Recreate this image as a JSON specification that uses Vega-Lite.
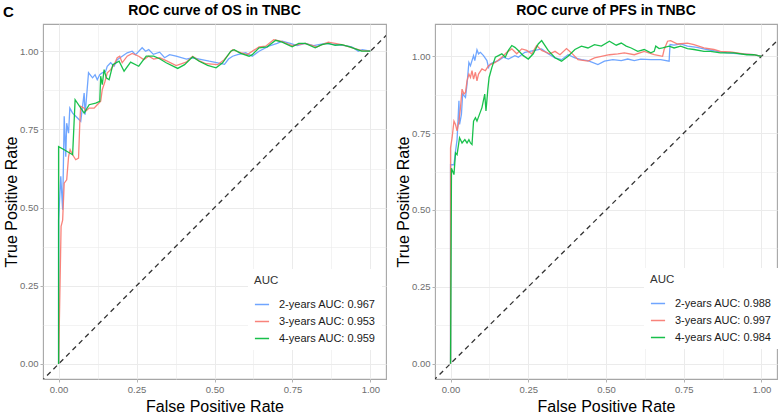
{
  "$schema": "https://vega.github.io/schema/vega-lite/v6.json",
  "background": "white",
  "padding": {"left": 2, "top": 3, "right": 0, "bottom": 0},
  "title": {"text": "C", "anchor": "start", "frame": "bounds", "fontSize": 15, "fontWeight": "bold", "color": "#000000", "offset": -17},
  "config": {
    "font": "Liberation Sans",
    "view": {"stroke": "#a6a6a6", "strokeWidth": 1.1},
    "title": {"fontSize": 14, "fontWeight": "bold", "color": "#000000", "offset": 6, "anchor": "middle"},
    "axis": {
      "domain": false, "grid": true, "gridColor": "#ebebeb", "tickColor": "#b3b3b3", "tickSize": 3,
      "labelColor": "#6e6e6e", "labelFontSize": 9.5, "labelPadding": 2,
      "titleFontSize": 16, "titleFontWeight": "normal", "titleColor": "#000000", "titlePadding": 5
    },
    "axisY": {"titlePadding": 0},
    "legend": {
      "orient": "none", "fillColor": "white", "padding": 6,
      "titleFontSize": 11.5, "titleFontWeight": "normal", "titleColor": "#333333", "titlePadding": 10,
      "labelFontSize": 11, "labelColor": "#1a1a1a", "labelOffset": 9,
      "symbolType": "stroke", "symbolSize": 200, "symbolStrokeWidth": 1.5, "rowPadding": 4
    }
  },
  "spacing": 7,
  "resolve": {"scale": {"color": "independent"}, "legend": {"color": "independent"}},
  "datasets": {
    "diag": [{"x": -0.2, "y": -0.2}, {"x": 1.3, "y": 1.3}],
    "os": [
      {"g":"2-years AUC: 0.967","x":0,"y":0},{"g":"2-years AUC: 0.967","x":0,"y":0.46},{"g":"2-years AUC: 0.967","x":0.007,"y":0.6},{"g":"2-years AUC: 0.967","x":0.013,"y":0.493},{"g":"2-years AUC: 0.967","x":0.018,"y":0.792},{"g":"2-years AUC: 0.967","x":0.023,"y":0.663},{"g":"2-years AUC: 0.967","x":0.026,"y":0.77},{"g":"2-years AUC: 0.967","x":0.032,"y":0.738},{"g":"2-years AUC: 0.967","x":0.036,"y":0.818},{"g":"2-years AUC: 0.967","x":0.045,"y":0.802},{"g":"2-years AUC: 0.967","x":0.055,"y":0.792},{"g":"2-years AUC: 0.967","x":0.071,"y":0.776},{"g":"2-years AUC: 0.967","x":0.082,"y":0.866},{"g":"2-years AUC: 0.967","x":0.085,"y":0.797},{"g":"2-years AUC: 0.967","x":0.096,"y":0.931},{"g":"2-years AUC: 0.967","x":0.109,"y":0.915},{"g":"2-years AUC: 0.967","x":0.117,"y":0.925},{"g":"2-years AUC: 0.967","x":0.124,"y":0.909},{"g":"2-years AUC: 0.967","x":0.132,"y":0.925},{"g":"2-years AUC: 0.967","x":0.14,"y":0.931},{"g":"2-years AUC: 0.967","x":0.151,"y":0.936},{"g":"2-years AUC: 0.967","x":0.156,"y":0.952},{"g":"2-years AUC: 0.967","x":0.167,"y":0.963},{"g":"2-years AUC: 0.967","x":0.178,"y":0.952},{"g":"2-years AUC: 0.967","x":0.188,"y":0.973},{"g":"2-years AUC: 0.967","x":0.204,"y":0.984},{"g":"2-years AUC: 0.967","x":0.22,"y":0.995},{"g":"2-years AUC: 0.967","x":0.236,"y":1.0},{"g":"2-years AUC: 0.967","x":0.247,"y":0.989},{"g":"2-years AUC: 0.967","x":0.268,"y":1.011},{"g":"2-years AUC: 0.967","x":0.279,"y":1.0},{"g":"2-years AUC: 0.967","x":0.289,"y":1.005},{"g":"2-years AUC: 0.967","x":0.304,"y":0.99},{"g":"2-years AUC: 0.967","x":0.324,"y":0.997},{"g":"2-years AUC: 0.967","x":0.34,"y":0.979},{"g":"2-years AUC: 0.967","x":0.356,"y":0.989},{"g":"2-years AUC: 0.967","x":0.377,"y":0.984},{"g":"2-years AUC: 0.967","x":0.41,"y":0.975},{"g":"2-years AUC: 0.967","x":0.43,"y":0.979},{"g":"2-years AUC: 0.967","x":0.451,"y":0.975},{"g":"2-years AUC: 0.967","x":0.483,"y":0.968},{"g":"2-years AUC: 0.967","x":0.51,"y":0.963},{"g":"2-years AUC: 0.967","x":0.532,"y":0.958},{"g":"2-years AUC: 0.967","x":0.545,"y":0.975},{"g":"2-years AUC: 0.967","x":0.558,"y":0.984},{"g":"2-years AUC: 0.967","x":0.574,"y":0.989},{"g":"2-years AUC: 0.967","x":0.6,"y":0.995},{"g":"2-years AUC: 0.967","x":0.621,"y":0.984},{"g":"2-years AUC: 0.967","x":0.643,"y":1.0},{"g":"2-years AUC: 0.967","x":0.674,"y":1.016},{"g":"2-years AUC: 0.967","x":0.701,"y":1.025},{"g":"2-years AUC: 0.967","x":0.717,"y":1.032},{"g":"2-years AUC: 0.967","x":0.743,"y":1.025},{"g":"2-years AUC: 0.967","x":0.765,"y":1.018},{"g":"2-years AUC: 0.967","x":0.791,"y":1.025},{"g":"2-years AUC: 0.967","x":0.818,"y":1.018},{"g":"2-years AUC: 0.967","x":0.855,"y":1.025},{"g":"2-years AUC: 0.967","x":0.887,"y":1.021},{"g":"2-years AUC: 0.967","x":0.919,"y":1.018},{"g":"2-years AUC: 0.967","x":0.94,"y":1.014},{"g":"2-years AUC: 0.967","x":0.961,"y":1.0},{"g":"2-years AUC: 0.967","x":0.974,"y":1.005},{"g":"2-years AUC: 0.967","x":1,"y":1},
      {"g":"3-years AUC: 0.953","x":0,"y":0},{"g":"3-years AUC: 0.953","x":0.008,"y":0.44},{"g":"3-years AUC: 0.953","x":0.013,"y":0.46},{"g":"3-years AUC: 0.953","x":0.018,"y":0.578},{"g":"3-years AUC: 0.953","x":0.026,"y":0.589},{"g":"3-years AUC: 0.953","x":0.032,"y":0.663},{"g":"3-years AUC: 0.953","x":0.037,"y":0.685},{"g":"3-years AUC: 0.953","x":0.045,"y":0.669},{"g":"3-years AUC: 0.953","x":0.055,"y":0.653},{"g":"3-years AUC: 0.953","x":0.064,"y":0.658},{"g":"3-years AUC: 0.953","x":0.068,"y":0.77},{"g":"3-years AUC: 0.953","x":0.071,"y":0.824},{"g":"3-years AUC: 0.953","x":0.082,"y":0.818},{"g":"3-years AUC: 0.953","x":0.087,"y":0.808},{"g":"3-years AUC: 0.953","x":0.098,"y":0.818},{"g":"3-years AUC: 0.953","x":0.114,"y":0.818},{"g":"3-years AUC: 0.953","x":0.124,"y":0.829},{"g":"3-years AUC: 0.953","x":0.135,"y":0.84},{"g":"3-years AUC: 0.953","x":0.14,"y":0.877},{"g":"3-years AUC: 0.953","x":0.149,"y":0.904},{"g":"3-years AUC: 0.953","x":0.156,"y":0.931},{"g":"3-years AUC: 0.953","x":0.167,"y":0.941},{"g":"3-years AUC: 0.953","x":0.178,"y":0.957},{"g":"3-years AUC: 0.953","x":0.188,"y":0.979},{"g":"3-years AUC: 0.953","x":0.196,"y":0.984},{"g":"3-years AUC: 0.953","x":0.204,"y":0.963},{"g":"3-years AUC: 0.953","x":0.22,"y":0.984},{"g":"3-years AUC: 0.953","x":0.236,"y":0.993},{"g":"3-years AUC: 0.953","x":0.257,"y":0.984},{"g":"3-years AUC: 0.953","x":0.273,"y":0.973},{"g":"3-years AUC: 0.953","x":0.289,"y":0.984},{"g":"3-years AUC: 0.953","x":0.305,"y":0.975},{"g":"3-years AUC: 0.953","x":0.324,"y":0.979},{"g":"3-years AUC: 0.953","x":0.345,"y":0.97},{"g":"3-years AUC: 0.953","x":0.377,"y":0.954},{"g":"3-years AUC: 0.953","x":0.409,"y":0.965},{"g":"3-years AUC: 0.953","x":0.43,"y":0.984},{"g":"3-years AUC: 0.953","x":0.45,"y":0.97},{"g":"3-years AUC: 0.953","x":0.473,"y":0.96},{"g":"3-years AUC: 0.953","x":0.51,"y":0.957},{"g":"3-years AUC: 0.953","x":0.531,"y":0.973},{"g":"3-years AUC: 0.953","x":0.558,"y":1.005},{"g":"3-years AUC: 0.953","x":0.579,"y":0.997},{"g":"3-years AUC: 0.953","x":0.605,"y":0.989},{"g":"3-years AUC: 0.953","x":0.643,"y":1.014},{"g":"3-years AUC: 0.953","x":0.664,"y":1.016},{"g":"3-years AUC: 0.953","x":0.69,"y":1.037},{"g":"3-years AUC: 0.953","x":0.712,"y":1.032},{"g":"3-years AUC: 0.953","x":0.749,"y":1.018},{"g":"3-years AUC: 0.953","x":0.791,"y":1.025},{"g":"3-years AUC: 0.953","x":0.828,"y":1.014},{"g":"3-years AUC: 0.953","x":0.865,"y":1.029},{"g":"3-years AUC: 0.953","x":0.908,"y":1.021},{"g":"3-years AUC: 0.953","x":0.972,"y":1.002},{"g":"3-years AUC: 0.953","x":1,"y":1},
      {"g":"4-years AUC: 0.959","x":0,"y":0},{"g":"4-years AUC: 0.959","x":0,"y":0.695},{"g":"4-years AUC: 0.959","x":0.018,"y":0.685},{"g":"4-years AUC: 0.959","x":0.045,"y":0.669},{"g":"4-years AUC: 0.959","x":0.053,"y":0.845},{"g":"4-years AUC: 0.959","x":0.082,"y":0.802},{"g":"4-years AUC: 0.959","x":0.098,"y":0.829},{"g":"4-years AUC: 0.959","x":0.119,"y":0.834},{"g":"4-years AUC: 0.959","x":0.132,"y":0.84},{"g":"4-years AUC: 0.959","x":0.135,"y":0.92},{"g":"4-years AUC: 0.959","x":0.14,"y":0.893},{"g":"4-years AUC: 0.959","x":0.146,"y":0.941},{"g":"4-years AUC: 0.959","x":0.153,"y":0.915},{"g":"4-years AUC: 0.959","x":0.162,"y":0.909},{"g":"4-years AUC: 0.959","x":0.174,"y":0.957},{"g":"4-years AUC: 0.959","x":0.194,"y":0.968},{"g":"4-years AUC: 0.959","x":0.21,"y":0.936},{"g":"4-years AUC: 0.959","x":0.231,"y":0.965},{"g":"4-years AUC: 0.959","x":0.257,"y":0.952},{"g":"4-years AUC: 0.959","x":0.281,"y":0.984},{"g":"4-years AUC: 0.959","x":0.305,"y":0.984},{"g":"4-years AUC: 0.959","x":0.324,"y":0.976},{"g":"4-years AUC: 0.959","x":0.345,"y":0.963},{"g":"4-years AUC: 0.959","x":0.382,"y":0.945},{"g":"4-years AUC: 0.959","x":0.404,"y":0.957},{"g":"4-years AUC: 0.959","x":0.43,"y":0.982},{"g":"4-years AUC: 0.959","x":0.451,"y":0.968},{"g":"4-years AUC: 0.959","x":0.478,"y":0.955},{"g":"4-years AUC: 0.959","x":0.505,"y":0.947},{"g":"4-years AUC: 0.959","x":0.526,"y":0.963},{"g":"4-years AUC: 0.959","x":0.552,"y":1.0},{"g":"4-years AUC: 0.959","x":0.563,"y":1.005},{"g":"4-years AUC: 0.959","x":0.584,"y":0.993},{"g":"4-years AUC: 0.959","x":0.611,"y":0.984},{"g":"4-years AUC: 0.959","x":0.621,"y":0.989},{"g":"4-years AUC: 0.959","x":0.643,"y":1.011},{"g":"4-years AUC: 0.959","x":0.669,"y":1.014},{"g":"4-years AUC: 0.959","x":0.696,"y":1.035},{"g":"4-years AUC: 0.959","x":0.717,"y":1.029},{"g":"4-years AUC: 0.959","x":0.749,"y":1.014},{"g":"4-years AUC: 0.959","x":0.77,"y":1.025},{"g":"4-years AUC: 0.959","x":0.791,"y":1.025},{"g":"4-years AUC: 0.959","x":0.823,"y":1.011},{"g":"4-years AUC: 0.959","x":0.844,"y":1.021},{"g":"4-years AUC: 0.959","x":0.865,"y":1.025},{"g":"4-years AUC: 0.959","x":0.887,"y":1.019},{"g":"4-years AUC: 0.959","x":0.908,"y":1.021},{"g":"4-years AUC: 0.959","x":0.934,"y":1.014},{"g":"4-years AUC: 0.959","x":0.972,"y":1.0},{"g":"4-years AUC: 0.959","x":1,"y":1}
    ],
    "pfs": [
      {"g":"2-years AUC: 0.988","x":0,"y":0},{"g":"2-years AUC: 0.988","x":0,"y":0.647},{"g":"2-years AUC: 0.988","x":0.011,"y":0.647},{"g":"2-years AUC: 0.988","x":0.016,"y":0.691},{"g":"2-years AUC: 0.988","x":0.021,"y":0.729},{"g":"2-years AUC: 0.988","x":0.027,"y":0.855},{"g":"2-years AUC: 0.988","x":0.029,"y":0.778},{"g":"2-years AUC: 0.988","x":0.035,"y":0.811},{"g":"2-years AUC: 0.988","x":0.039,"y":0.877},{"g":"2-years AUC: 0.988","x":0.048,"y":0.866},{"g":"2-years AUC: 0.988","x":0.053,"y":0.909},{"g":"2-years AUC: 0.988","x":0.059,"y":0.98},{"g":"2-years AUC: 0.988","x":0.064,"y":0.969},{"g":"2-years AUC: 0.988","x":0.074,"y":1.002},{"g":"2-years AUC: 0.988","x":0.078,"y":0.986},{"g":"2-years AUC: 0.988","x":0.085,"y":1.021},{"g":"2-years AUC: 0.988","x":0.09,"y":1.008},{"g":"2-years AUC: 0.988","x":0.096,"y":1.013},{"g":"2-years AUC: 0.988","x":0.106,"y":1.002},{"g":"2-years AUC: 0.988","x":0.117,"y":0.986},{"g":"2-years AUC: 0.988","x":0.122,"y":0.964},{"g":"2-years AUC: 0.988","x":0.128,"y":0.975},{"g":"2-years AUC: 0.988","x":0.138,"y":0.98},{"g":"2-years AUC: 0.988","x":0.154,"y":0.986},{"g":"2-years AUC: 0.988","x":0.17,"y":0.997},{"g":"2-years AUC: 0.988","x":0.186,"y":0.991},{"g":"2-years AUC: 0.988","x":0.207,"y":1.002},{"g":"2-years AUC: 0.988","x":0.218,"y":0.997},{"g":"2-years AUC: 0.988","x":0.239,"y":1.013},{"g":"2-years AUC: 0.988","x":0.271,"y":1.019},{"g":"2-years AUC: 0.988","x":0.293,"y":1.024},{"g":"2-years AUC: 0.988","x":0.314,"y":1.008},{"g":"2-years AUC: 0.988","x":0.336,"y":0.995},{"g":"2-years AUC: 0.988","x":0.357,"y":0.989},{"g":"2-years AUC: 0.988","x":0.378,"y":1.005},{"g":"2-years AUC: 0.988","x":0.4,"y":0.995},{"g":"2-years AUC: 0.988","x":0.421,"y":0.989},{"g":"2-years AUC: 0.988","x":0.442,"y":0.986},{"g":"2-years AUC: 0.988","x":0.474,"y":0.973},{"g":"2-years AUC: 0.988","x":0.495,"y":0.984},{"g":"2-years AUC: 0.988","x":0.522,"y":0.989},{"g":"2-years AUC: 0.988","x":0.549,"y":0.986},{"g":"2-years AUC: 0.988","x":0.57,"y":0.991},{"g":"2-years AUC: 0.988","x":0.591,"y":0.986},{"g":"2-years AUC: 0.988","x":0.612,"y":0.991},{"g":"2-years AUC: 0.988","x":0.644,"y":0.989},{"g":"2-years AUC: 0.988","x":0.676,"y":0.989},{"g":"2-years AUC: 0.988","x":0.703,"y":0.984},{"g":"2-years AUC: 0.988","x":0.706,"y":1.038},{"g":"2-years AUC: 0.988","x":0.719,"y":1.036},{"g":"2-years AUC: 0.988","x":0.74,"y":1.04},{"g":"2-years AUC: 0.988","x":0.762,"y":1.033},{"g":"2-years AUC: 0.988","x":0.793,"y":1.029},{"g":"2-years AUC: 0.988","x":0.825,"y":1.022},{"g":"2-years AUC: 0.988","x":0.857,"y":1.016},{"g":"2-years AUC: 0.988","x":0.889,"y":1.011},{"g":"2-years AUC: 0.988","x":0.932,"y":1.008},{"g":"2-years AUC: 0.988","x":0.975,"y":1.005},{"g":"2-years AUC: 0.988","x":1,"y":1},
      {"g":"3-years AUC: 0.997","x":0,"y":0},{"g":"3-years AUC: 0.997","x":0,"y":0.702},{"g":"3-years AUC: 0.997","x":0.005,"y":0.735},{"g":"3-years AUC: 0.997","x":0.011,"y":0.789},{"g":"3-years AUC: 0.997","x":0.016,"y":0.778},{"g":"3-years AUC: 0.997","x":0.021,"y":0.757},{"g":"3-years AUC: 0.997","x":0.027,"y":0.789},{"g":"3-years AUC: 0.997","x":0.032,"y":0.833},{"g":"3-years AUC: 0.997","x":0.037,"y":0.893},{"g":"3-years AUC: 0.997","x":0.043,"y":0.877},{"g":"3-years AUC: 0.997","x":0.048,"y":0.882},{"g":"3-years AUC: 0.997","x":0.053,"y":0.92},{"g":"3-years AUC: 0.997","x":0.059,"y":0.942},{"g":"3-years AUC: 0.997","x":0.064,"y":0.931},{"g":"3-years AUC: 0.997","x":0.069,"y":0.953},{"g":"3-years AUC: 0.997","x":0.074,"y":0.926},{"g":"3-years AUC: 0.997","x":0.08,"y":0.948},{"g":"3-years AUC: 0.997","x":0.085,"y":0.92},{"g":"3-years AUC: 0.997","x":0.09,"y":0.942},{"g":"3-years AUC: 0.997","x":0.101,"y":0.959},{"g":"3-years AUC: 0.997","x":0.112,"y":0.953},{"g":"3-years AUC: 0.997","x":0.122,"y":0.969},{"g":"3-years AUC: 0.997","x":0.133,"y":0.975},{"g":"3-years AUC: 0.997","x":0.144,"y":0.98},{"g":"3-years AUC: 0.997","x":0.165,"y":0.997},{"g":"3-years AUC: 0.997","x":0.181,"y":1.013},{"g":"3-years AUC: 0.997","x":0.197,"y":1.024},{"g":"3-years AUC: 0.997","x":0.213,"y":1.008},{"g":"3-years AUC: 0.997","x":0.229,"y":1.024},{"g":"3-years AUC: 0.997","x":0.245,"y":1.019},{"g":"3-years AUC: 0.997","x":0.261,"y":1.008},{"g":"3-years AUC: 0.997","x":0.277,"y":1.035},{"g":"3-years AUC: 0.997","x":0.293,"y":1.019},{"g":"3-years AUC: 0.997","x":0.319,"y":1.008},{"g":"3-years AUC: 0.997","x":0.336,"y":1.016},{"g":"3-years AUC: 0.997","x":0.352,"y":1.005},{"g":"3-years AUC: 0.997","x":0.373,"y":1.025},{"g":"3-years AUC: 0.997","x":0.389,"y":1.011},{"g":"3-years AUC: 0.997","x":0.41,"y":0.989},{"g":"3-years AUC: 0.997","x":0.442,"y":0.984},{"g":"3-years AUC: 0.997","x":0.463,"y":0.995},{"g":"3-years AUC: 0.997","x":0.485,"y":1.0},{"g":"3-years AUC: 0.997","x":0.511,"y":1.005},{"g":"3-years AUC: 0.997","x":0.538,"y":1.008},{"g":"3-years AUC: 0.997","x":0.559,"y":1.011},{"g":"3-years AUC: 0.997","x":0.591,"y":1.005},{"g":"3-years AUC: 0.997","x":0.623,"y":1.016},{"g":"3-years AUC: 0.997","x":0.655,"y":1.005},{"g":"3-years AUC: 0.997","x":0.682,"y":1.0},{"g":"3-years AUC: 0.997","x":0.687,"y":1.022},{"g":"3-years AUC: 0.997","x":0.698,"y":1.049},{"g":"3-years AUC: 0.997","x":0.708,"y":1.051},{"g":"3-years AUC: 0.997","x":0.73,"y":1.04},{"g":"3-years AUC: 0.997","x":0.762,"y":1.043},{"g":"3-years AUC: 0.997","x":0.783,"y":1.038},{"g":"3-years AUC: 0.997","x":0.815,"y":1.027},{"g":"3-years AUC: 0.997","x":0.847,"y":1.022},{"g":"3-years AUC: 0.997","x":0.868,"y":1.016},{"g":"3-years AUC: 0.997","x":0.9,"y":1.014},{"g":"3-years AUC: 0.997","x":0.943,"y":1.008},{"g":"3-years AUC: 0.997","x":0.975,"y":1.005},{"g":"3-years AUC: 0.997","x":1,"y":1},
      {"g":"4-years AUC: 0.984","x":0,"y":0},{"g":"4-years AUC: 0.984","x":0.003,"y":0.636},{"g":"4-years AUC: 0.984","x":0.011,"y":0.615},{"g":"4-years AUC: 0.984","x":0.016,"y":0.686},{"g":"4-years AUC: 0.984","x":0.021,"y":0.68},{"g":"4-years AUC: 0.984","x":0.029,"y":0.735},{"g":"4-years AUC: 0.984","x":0.037,"y":0.718},{"g":"4-years AUC: 0.984","x":0.046,"y":0.729},{"g":"4-years AUC: 0.984","x":0.053,"y":0.718},{"g":"4-years AUC: 0.984","x":0.059,"y":0.729},{"g":"4-years AUC: 0.984","x":0.064,"y":0.718},{"g":"4-years AUC: 0.984","x":0.069,"y":0.713},{"g":"4-years AUC: 0.984","x":0.074,"y":0.789},{"g":"4-years AUC: 0.984","x":0.08,"y":0.8},{"g":"4-years AUC: 0.984","x":0.085,"y":0.789},{"g":"4-years AUC: 0.984","x":0.093,"y":0.811},{"g":"4-years AUC: 0.984","x":0.101,"y":0.833},{"g":"4-years AUC: 0.984","x":0.11,"y":0.877},{"g":"4-years AUC: 0.984","x":0.114,"y":0.822},{"g":"4-years AUC: 0.984","x":0.12,"y":0.893},{"g":"4-years AUC: 0.984","x":0.124,"y":0.931},{"g":"4-years AUC: 0.984","x":0.133,"y":0.964},{"g":"4-years AUC: 0.984","x":0.144,"y":0.997},{"g":"4-years AUC: 0.984","x":0.154,"y":1.002},{"g":"4-years AUC: 0.984","x":0.165,"y":1.008},{"g":"4-years AUC: 0.984","x":0.176,"y":0.997},{"g":"4-years AUC: 0.984","x":0.186,"y":1.019},{"g":"4-years AUC: 0.984","x":0.197,"y":1.035},{"g":"4-years AUC: 0.984","x":0.207,"y":1.029},{"g":"4-years AUC: 0.984","x":0.218,"y":1.019},{"g":"4-years AUC: 0.984","x":0.234,"y":1.002},{"g":"4-years AUC: 0.984","x":0.25,"y":0.991},{"g":"4-years AUC: 0.984","x":0.266,"y":1.008},{"g":"4-years AUC: 0.984","x":0.282,"y":1.04},{"g":"4-years AUC: 0.984","x":0.293,"y":1.051},{"g":"4-years AUC: 0.984","x":0.314,"y":1.019},{"g":"4-years AUC: 0.984","x":0.336,"y":0.995},{"g":"4-years AUC: 0.984","x":0.357,"y":0.984},{"g":"4-years AUC: 0.984","x":0.378,"y":1.0},{"g":"4-years AUC: 0.984","x":0.4,"y":1.022},{"g":"4-years AUC: 0.984","x":0.421,"y":1.033},{"g":"4-years AUC: 0.984","x":0.442,"y":1.027},{"g":"4-years AUC: 0.984","x":0.463,"y":1.038},{"g":"4-years AUC: 0.984","x":0.485,"y":1.033},{"g":"4-years AUC: 0.984","x":0.511,"y":1.049},{"g":"4-years AUC: 0.984","x":0.533,"y":1.036},{"g":"4-years AUC: 0.984","x":0.549,"y":1.043},{"g":"4-years AUC: 0.984","x":0.565,"y":1.033},{"g":"4-years AUC: 0.984","x":0.581,"y":1.027},{"g":"4-years AUC: 0.984","x":0.602,"y":1.016},{"g":"4-years AUC: 0.984","x":0.623,"y":1.022},{"g":"4-years AUC: 0.984","x":0.644,"y":1.011},{"g":"4-years AUC: 0.984","x":0.655,"y":1.016},{"g":"4-years AUC: 0.984","x":0.66,"y":1.033},{"g":"4-years AUC: 0.984","x":0.671,"y":1.025},{"g":"4-years AUC: 0.984","x":0.682,"y":1.027},{"g":"4-years AUC: 0.984","x":0.703,"y":1.033},{"g":"4-years AUC: 0.984","x":0.719,"y":1.027},{"g":"4-years AUC: 0.984","x":0.74,"y":1.033},{"g":"4-years AUC: 0.984","x":0.762,"y":1.025},{"g":"4-years AUC: 0.984","x":0.783,"y":1.022},{"g":"4-years AUC: 0.984","x":0.815,"y":1.016},{"g":"4-years AUC: 0.984","x":0.836,"y":1.016},{"g":"4-years AUC: 0.984","x":0.868,"y":1.011},{"g":"4-years AUC: 0.984","x":0.911,"y":1.011},{"g":"4-years AUC: 0.984","x":0.953,"y":1.005},{"g":"4-years AUC: 0.984","x":0.975,"y":1.005},{"g":"4-years AUC: 0.984","x":1,"y":1}
    ]
  },
  "hconcat": [
    {
      "width": 343, "height": 355,
      "title": "ROC curve of OS in TNBC",
      "layer": [
        {
          "data": {"name": "diag"},
          "mark": {"type": "line", "clip": true, "strokeDash": [5, 4], "color": "#333333", "strokeWidth": 1.3},
          "encoding": {
            "x": {"field": "x", "type": "quantitative", "scale": {"domain": [-0.05, 1.05], "nice": false, "zero": false},
              "axis": {"title": "False Positive Rate", "values": [0, 0.125, 0.25, 0.375, 0.5, 0.625, 0.75, 0.875, 1], "format": ".2f",
                "labelExpr": "indexof([0.125,0.375,0.625,0.875], datum.value) >= 0 ? '' : datum.label",
                "tickOpacity": {"condition": {"test": "indexof([0.125,0.375,0.625,0.875], datum.value) >= 0", "value": 0}, "value": 1},
                "gridWidth": {"condition": {"test": "indexof([0.125,0.375,0.625,0.875], datum.value) >= 0", "value": 0.6}, "value": 1}}},
            "y": {"field": "y", "type": "quantitative", "scale": {"domain": [-0.048, 1.087], "nice": false, "zero": false},
              "axis": {"title": "True Positive Rate", "values": [0, 0.125, 0.25, 0.375, 0.5, 0.625, 0.75, 0.875, 1], "format": ".2f",
                "labelExpr": "indexof([0.125,0.375,0.625,0.875], datum.value) >= 0 ? '' : datum.label",
                "tickOpacity": {"condition": {"test": "indexof([0.125,0.375,0.625,0.875], datum.value) >= 0", "value": 0}, "value": 1},
                "gridWidth": {"condition": {"test": "indexof([0.125,0.375,0.625,0.875], datum.value) >= 0", "value": 0.6}, "value": 1}}}
          }
        },
        {
          "data": {"name": "os"},
          "mark": {"type": "line", "clip": true, "strokeWidth": 1.3, "opacity": 0.9},
          "encoding": {
            "x": {"field": "x", "type": "quantitative", "scale": {"domain": [-0.05, 1.05], "nice": false, "zero": false}},
            "y": {"field": "y", "type": "quantitative", "scale": {"domain": [-0.048, 1.087], "nice": false, "zero": false}},
            "color": {"field": "g", "type": "nominal",
              "scale": {"domain": ["2-years AUC: 0.967", "3-years AUC: 0.953", "4-years AUC: 0.959"], "range": ["#619CFF", "#F8766D", "#00BA38"]},
              "legend": {"title": "AUC", "legendX": 205, "legendY": 245}},
            "order": {"value": null}
          }
        }
      ]
    },
    {
      "width": 342, "height": 355,
      "title": "ROC curve of PFS in TNBC",
      "layer": [
        {
          "data": {"name": "diag"},
          "mark": {"type": "line", "clip": true, "strokeDash": [5, 4], "color": "#333333", "strokeWidth": 1.3},
          "encoding": {
            "x": {"field": "x", "type": "quantitative", "scale": {"domain": [-0.05, 1.05], "nice": false, "zero": false},
              "axis": {"title": "False Positive Rate", "values": [0, 0.125, 0.25, 0.375, 0.5, 0.625, 0.75, 0.875, 1], "format": ".2f",
                "labelExpr": "indexof([0.125,0.375,0.625,0.875], datum.value) >= 0 ? '' : datum.label",
                "tickOpacity": {"condition": {"test": "indexof([0.125,0.375,0.625,0.875], datum.value) >= 0", "value": 0}, "value": 1},
                "gridWidth": {"condition": {"test": "indexof([0.125,0.375,0.625,0.875], datum.value) >= 0", "value": 0.6}, "value": 1}}},
            "y": {"field": "y", "type": "quantitative", "scale": {"domain": [-0.05, 1.105], "nice": false, "zero": false},
              "axis": {"title": "True Positive Rate", "values": [0, 0.125, 0.25, 0.375, 0.5, 0.625, 0.75, 0.875, 1], "format": ".2f",
                "labelExpr": "indexof([0.125,0.375,0.625,0.875], datum.value) >= 0 ? '' : datum.label",
                "tickOpacity": {"condition": {"test": "indexof([0.125,0.375,0.625,0.875], datum.value) >= 0", "value": 0}, "value": 1},
                "gridWidth": {"condition": {"test": "indexof([0.125,0.375,0.625,0.875], datum.value) >= 0", "value": 0.6}, "value": 1}}}
          }
        },
        {
          "data": {"name": "pfs"},
          "mark": {"type": "line", "clip": true, "strokeWidth": 1.3, "opacity": 0.9},
          "encoding": {
            "x": {"field": "x", "type": "quantitative", "scale": {"domain": [-0.05, 1.05], "nice": false, "zero": false}},
            "y": {"field": "y", "type": "quantitative", "scale": {"domain": [-0.05, 1.105], "nice": false, "zero": false}},
            "color": {"field": "g", "type": "nominal",
              "scale": {"domain": ["2-years AUC: 0.988", "3-years AUC: 0.997", "4-years AUC: 0.984"], "range": ["#619CFF", "#F8766D", "#00BA38"]},
              "legend": {"title": "AUC", "legendX": 209, "legendY": 244}},
            "order": {"value": null}
          }
        }
      ]
    }
  ]
}
